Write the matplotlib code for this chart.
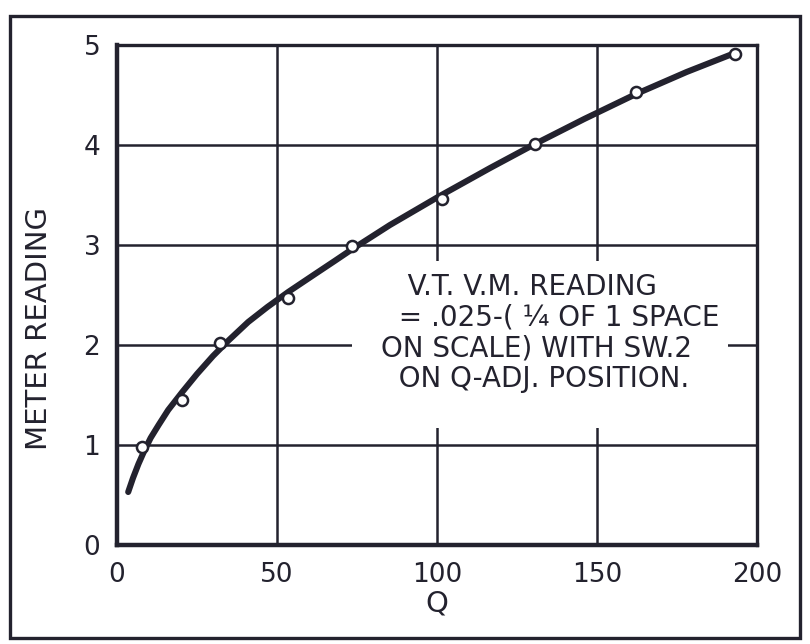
import numpy as np
import matplotlib.pyplot as plt
from matplotlib.patches import Rectangle

# measured points (Q, meter reading)
point_q = [7.9, 20.4, 32.1, 53.5, 73.3, 101.5, 130.6, 162.2, 193.1]
point_r = [0.98, 1.45, 2.02, 2.47, 2.99, 3.46, 4.01, 4.53, 4.91]

# hand drawn curve
curve_q = [3.5, 5, 6.7, 8.5, 10.5, 13, 16, 20.4, 25, 30, 35, 41, 47, 53.5,
           61.9, 68, 73.1, 85.3, 100.3, 116.6, 130.6, 146, 162.2, 178, 193.1]
curve_r = [0.53, 0.67, 0.81, 0.94, 1.07, 1.20, 1.35, 1.53, 1.71, 1.89, 2.05,
           2.23, 2.38, 2.53, 2.71, 2.84, 2.95, 3.20, 3.48, 3.77, 4.01, 4.26,
           4.51, 4.73, 4.92]

x_ticks = [0, 50, 100, 150, 200]
y_ticks = [0, 1, 2, 3, 4, 5]

note = ("   V.T. V.M. READING\n"
        "  = .025-( ¼ OF 1 SPACE\n"
        "ON SCALE) WITH SW.2\n"
        "  ON Q-ADJ. POSITION.")

ink = '#23222e'

fig = plt.figure(figsize=(8.1, 6.44), dpi=100)
ax = fig.add_axes([117/810, 1 - 545/644, (757-117)/810, (545-45)/644])

ax.set_xlim(0, 200)
ax.set_ylim(0, 5)
ax.set_xticks(x_ticks)
ax.set_yticks(y_ticks)
ax.tick_params(length=0, labelsize=19, colors=ink, pad=12)
ax.grid(True, color=ink, linewidth=1.8, zorder=1)
ax.set_axisbelow(True)

for side in ['left', 'bottom']:
    ax.spines[side].set_linewidth(3.2)
for side in ['top', 'right']:
    ax.spines[side].set_linewidth(2.4)
for s in ax.spines.values():
    s.set_color(ink)

# white patch that breaks the grid behind the note
ax.add_patch(Rectangle((73.5, 1.17), 117.5, 1.67, facecolor='white',
                       edgecolor='none', zorder=1.5))

ax.plot(curve_q, curve_r, color=ink, linewidth=4.4, solid_capstyle='round',
        solid_joinstyle='round', zorder=3)
ax.plot(point_q, point_r, 'o', markersize=8, markerfacecolor='white',
        markeredgecolor=ink, markeredgewidth=1.8, zorder=4)

ax.text(82.5, 2.72, note, fontsize=20, color=ink, va='top', ha='left',
        linespacing=1.12, zorder=5)

ax.set_xlabel('Q', fontsize=21, color=ink, labelpad=1)
ax.set_ylabel('METER READING', fontsize=21, color=ink)
ax.yaxis.set_label_coords(-0.10, 0.434)

# outer frame around the whole drawing
fig.patches.append(Rectangle((10/810, 6/644), 790/810, 622/644,
                             transform=fig.transFigure, fill=False,
                             edgecolor=ink, linewidth=2.4))

fig.savefig('out.png', dpi=100, facecolor='white')
